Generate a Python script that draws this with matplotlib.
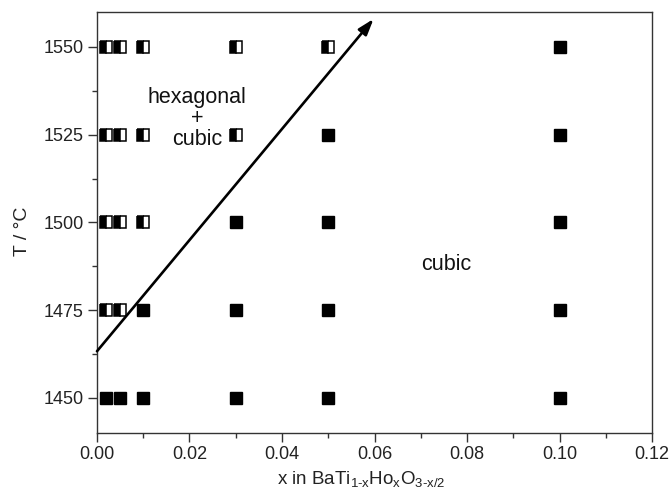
import matplotlib
matplotlib.use("Agg")
import matplotlib.pyplot as plt
from matplotlib.ticker import MultipleLocator

plt.rcParams['font.family'] = ['Liberation Sans', 'DejaVu Sans']
plt.rcParams['mathtext.fontset'] = 'custom'
plt.rcParams['mathtext.rm'] = 'Liberation Sans'
plt.rcParams['mathtext.it'] = 'Liberation Sans'

# data: (x, T) for two-phase (half-filled) and single-phase cubic (filled)
mixed_x = [0.002, 0.005, 0.01, 0.03, 0.05,
           0.002, 0.005, 0.01, 0.03,
           0.002, 0.005, 0.01,
           0.002, 0.005]
mixed_T = [1550, 1550, 1550, 1550, 1550,
           1525, 1525, 1525, 1525,
           1500, 1500, 1500,
           1475, 1475]
cubic_x = [0.1,
           0.05, 0.1,
           0.03, 0.05, 0.1,
           0.01, 0.03, 0.05, 0.1,
           0.002, 0.005, 0.01, 0.03, 0.05, 0.1]
cubic_T = [1550,
           1525, 1525,
           1500, 1500, 1500,
           1475, 1475, 1475, 1475,
           1450, 1450, 1450, 1450, 1450, 1450]
arrow_start = (0.0, 1463.3)
arrow_end = (0.0598, 1558.0)

fig = plt.figure(figsize=(6.72, 4.96), dpi=100)
ax = fig.add_axes([0.1443, 0.127, 0.8260, 0.849])

ax.plot(cubic_x, cubic_T, 's', color='black', markersize=8.2, linestyle='none')
ax.plot(mixed_x, mixed_T, 's', color='black', markersize=8.2, linestyle='none',
        fillstyle='left', markerfacecoloralt='white', markeredgecolor='black',
        markeredgewidth=1.1)

ax.annotate('', xy=arrow_end, xytext=arrow_start,
            arrowprops=dict(arrowstyle='-|>,head_length=0.6,head_width=0.2',
                            color='black', lw=1.9,
                            mutation_scale=16, shrinkA=0, shrinkB=0))

ax.text(0.0217, 1529.6, 'hexagonal\n+\ncubic', ha='center', va='center',
        fontsize=15.5, linespacing=1.0, color='#111111')
ax.text(0.0755, 1488.0, 'cubic', ha='center', va='center', fontsize=15.5,
        color='#111111')

ax.set_xlim(0, 0.12)
ax.set_ylim(1440, 1560)
ax.xaxis.set_major_locator(MultipleLocator(0.02))
ax.xaxis.set_minor_locator(MultipleLocator(0.01))
ax.yaxis.set_major_locator(MultipleLocator(25))
ax.yaxis.set_minor_locator(MultipleLocator(12.5))
ax.set_yticks([1450, 1475, 1500, 1525, 1550])
ax.xaxis.set_major_formatter(plt.FuncFormatter(lambda v, p: f'{v:.2f}'))
ax.tick_params(which='both', direction='out', top=False, right=False,
               labelsize=13, width=1.0, colors='#333333', labelcolor='#222222')
ax.tick_params(which='major', length=6.5, pad=3)
ax.tick_params(which='minor', length=3.5)
for s in ax.spines.values():
    s.set_linewidth(1.0)
    s.set_color('#333333')

ax.set_xlabel(r'x in BaTi$_{\mathrm{1\text{-}x}}$Ho$_{\mathrm{x}}$O$_{\mathrm{3\text{-}x/2}}$',
              fontsize=13.5, color='#222222')
ax.xaxis.set_label_coords(0.476, -0.085)
ax.set_ylabel('T / °C', fontsize=14, color='#222222')
ax.yaxis.set_label_coords(-0.118, 0.48)

fig.savefig('out.png', dpi=100)
